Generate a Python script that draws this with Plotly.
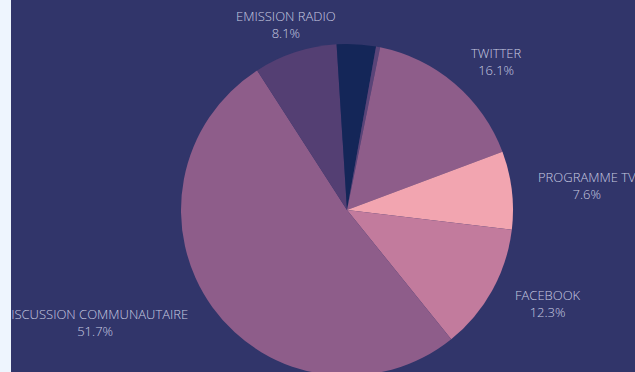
import math
import plotly.graph_objects as go

labels = ["", " ", "TWITTER", "PROGRAMME TV", "FACEBOOK", "DISCUSSION COMMUNAUTAIRE", "EMISSION RADIO", "  "]
values = [2.8, 0.4, 16.1, 7.6, 12.3, 51.7, 8.1, 1.0]
show_label = [False, False, True, True, True, True, True, False]
colors = ["#142658", "#5a4478", "#8e5d8a", "#f2a5b0", "#c27b9d", "#8e5d8a", "#543f73", "#142658"]

TEXT_COLOR = "#c7cae0"
BG = "#31356a"
STRIP = "#eef5fe"

fig = go.Figure(go.Pie(
    labels=labels,
    values=values,
    sort=False,
    direction="clockwise",
    rotation=0,
    marker=dict(colors=colors, line=dict(width=0)),
    textinfo="none",
    showlegend=False,
    hoverinfo="label+percent",
))

# Outside labels placed along each slice's mid-angle (derived from the values)
W, H = 624, 380
ml, mr, mt, mb = 170, 122, 44, 4
pw, ph = W - ml - mr, H - mt - mb
k = 1.17
total = sum(values)
cum = 0.0
annotations = []
for lab, v, show in zip(labels, values, show_label):
    mid = (cum + v / 2) / total * 2 * math.pi
    cum += v
    if not show:
        continue
    sx, cy = math.sin(mid), math.cos(mid)
    x = 0.5 + k * 0.5 * sx
    y = 0.5 + k * 0.5 * cy * (pw / ph)
    if sx > 0.35:
        xa, xs = "left", -4
    elif sx < -0.35:
        xa, xs = "right", 0
    else:
        xa, xs = "center", 0
    annotations.append(dict(
        xref="paper", yref="paper", x=x, y=y, xshift=xs, yshift=1,
        text=f"{lab}<br>{v / total * 100:.1f}%",
        showarrow=False, xanchor=xa, yanchor="middle", align="center",
        font=dict(family="Open Sans", size=13, color=TEXT_COLOR, weight=300),
    ))

fig.update_layout(
    width=W,
    height=H,
    margin=dict(l=ml, r=mr, t=mt, b=mb),
    paper_bgcolor=BG,
    plot_bgcolor=BG,
    annotations=annotations,
)

post = (
    "document.body.style.margin='0';"
    "document.body.style.overflow='hidden';"
    f"document.body.style.background='{STRIP}';"
    "var gd=document.getElementById('{plot_id}');"
    "gd.style.marginLeft='11px';"
)

fig.write_html("out.html", post_script=post)
